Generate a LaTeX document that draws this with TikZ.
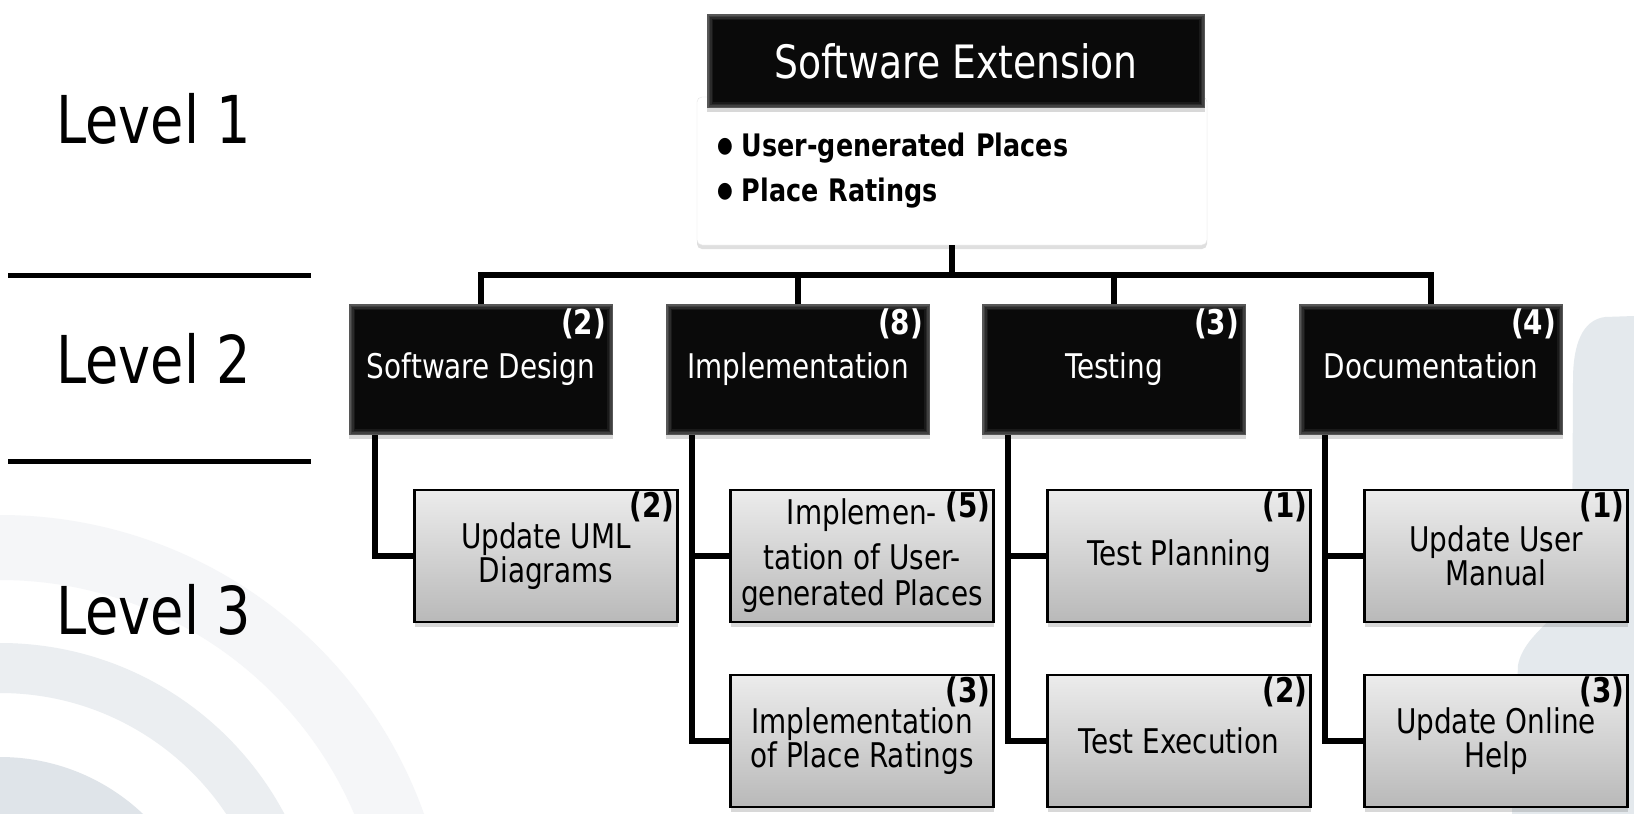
\documentclass[tikz,border=0pt]{standalone}
\usepackage{fontspec}
\setmainfont{DejaVu Sans}[FakeStretch=0.82]
\usepackage{tikz}
\usetikzlibrary{shadows}

\definecolor{fondA}{HTML}{F5F6F8}
\definecolor{fondB}{HTML}{EBEEF1}
\definecolor{fondC}{HTML}{DFE4E9}
\definecolor{fondD}{HTML}{E4E9ED}

\newcommand{\puce}{\raisebox{4pt}{\fontsize{22}{22}\selectfont ●}\hspace{9pt}}

\tikzset{
  lien/.style={line width=5.5pt},
  niveau/.style={anchor=base west, inner sep=0pt, font=\fontsize{66}{70}\selectfont},
  biseau/.style={fill=black, path picture={
      \foreach \ep/\gr in {0/34,1.5/25,3/17,4.5/10,6/4}
        \fill[white!\gr!black] ([xshift=\ep pt,yshift=\ep pt]path picture bounding box.south west)
          rectangle ([xshift=-\ep pt,yshift=-\ep pt]path picture bounding box.north east);}},
  tache/.style={biseau, minimum width=264pt, minimum height=131pt, text=white,
    font=\fontsize{34}{36}\selectfont, text height=25pt, text depth=7pt,
    drop shadow={shadow xshift=0pt, shadow yshift=-4pt, opacity=.3}},
  sous/.style={draw=black, line width=2.5pt, top color=gray!15, bottom color=gray!55,
    minimum width=263pt, minimum height=132pt, align=center,
    font=\fontsize{34}{31}\selectfont,
    drop shadow={shadow xshift=0pt, shadow yshift=-5pt, opacity=.3}},
  poids/.style={anchor=north east, inner sep=0pt, font=\bfseries\fontsize{34}{34}\selectfont}
}

\begin{document}
\begin{tikzpicture}[x=1pt, y=-1pt]
\useasboundingbox (0,0) rectangle (1634,814);
%fond
\fill[white] (0,0) rectangle (1634,814);
\fill[fondA, even odd rule] (0,965) circle (450pt) (0,965) circle (385pt);
\fill[fondB, even odd rule] (0,965) circle (322pt) (0,965) circle (272pt);
\fill[fondC, even odd rule] (0,965) circle (208pt) (0,965) circle (140pt);
\fill[fondD] (1634,316) -- (1605,317) .. controls (1582,320) and (1573,345) .. (1573,380)
  -- (1572,580) .. controls (1570,615) and (1525,630) .. (1518,665) -- (1512,814) -- (1634,814) -- cycle;

%niveaux
\draw[line width=5pt] (8,275) -- (311,275);
\draw[line width=5pt] (8,461) -- (311,461);
\node[niveau] (n1) at (56,143) {Level 1};
\node[niveau] (n2) at (56,383) {Level 2};
\node[niveau] (n3) at (56,634) {Level 3};

%niveau 1
\node[fill=white, draw=gray!20, rounded corners=5pt, minimum width=510pt, minimum height=148pt,
  text width=470pt, align=left, font=\bfseries\fontsize{31}{45}\selectfont,
  drop shadow={shadow xshift=0pt, shadow yshift=-4pt, opacity=.25}] (desc) at (952,171)
  {\puce User-generated Places\\\puce Place Ratings};
\node[biseau, minimum width=498pt, minimum height=94pt, text=white, font=\fontsize{46}{48}\selectfont,
  drop shadow={shadow xshift=0pt, shadow yshift=-4pt, opacity=.3}] (ext) at (956,61) {Software Extension};

%niveau 2
\node[tache] (sd) at (481,369.5) {Software Design};
\node[tache] (impl) at (798,369.5) {Implementation};
\node[tache] (test) at (1114,369.5) {Testing};
\node[tache] (doc) at (1431,369.5) {Documentation};

%niveau 3
\node[sous] (uml) at (546,556) {Update UML\\Diagrams};
\node[sous, font=\fontsize{34}{36}\selectfont] (ug) at (862,556) {Implemen-\\[9pt]tation of User-\\generated Places};
\node[sous] (pr) at (862,741) {Implementation\\of Place Ratings};
\node[sous] (tp) at (1179,556) {Test Planning};
\node[sous] (te) at (1179,741) {Test Execution};
\node[sous] (man) at (1496,556) {Update User\\Manual};
\node[sous] (aide) at (1496,741) {Update Online\\Help};

%charges
\foreach \n/\c in {sd/2,impl/8,test/3,doc/4}
  \node[poids, text=white] (p-\n) at ([xshift=-7pt,yshift=-5pt]\n.north east) {(\c)};
\foreach \n/\c in {uml/2,ug/5,pr/3,tp/1,te/2,man/1,aide/3}
  \node[poids] (p-\n) at ([xshift=-4pt,yshift=-3pt]\n.north east) {(\c)};

%liens
\coordinate (barre) at (952,275);
\draw[lien] (desc.south) -- (barre);
\draw[lien] (sd.north) |- (barre) -| (doc.north);
\foreach \n in {impl,test} \draw[lien] (\n.north) -- (\n.north |- barre);
\foreach \a/\b in {sd/uml,impl/ug,impl/pr,test/tp,test/te,doc/man,doc/aide}
  \draw[lien] ([xshift=26pt]\a.south west) |- (\b.west);

\end{tikzpicture}
\end{document}
